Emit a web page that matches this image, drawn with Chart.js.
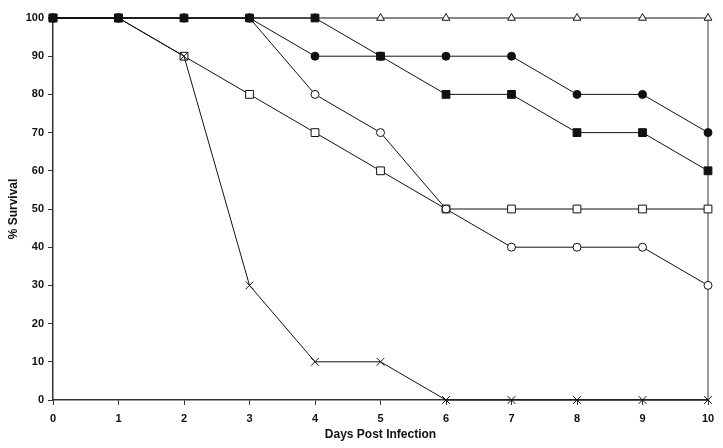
<!DOCTYPE html>
<html>
<head>
<meta charset="utf-8">
<script src="https://cdn.jsdelivr.net/npm/chart.js@4.4.1/dist/chart.umd.min.js"></script>
<style>
  html, body { margin: 0; padding: 0; background: #fff; }
  #wrap { width: 723px; height: 448px; }
</style>
</head>
<body>
<div id="wrap"><canvas id="grafica"></canvas></div>
<script>
// Datos
const dias = [0, 1, 2, 3, 4, 5, 6, 7, 8, 9, 10];
const cuadroLleno   = [100, 100, 100, 100, 100, 90, 80, 80, 70, 70, 60];
const circuloLleno  = [100, 100, 100, 100, 90, 90, 90, 90, 80, 80, 70];
const triangulo     = [100, 100, 100, 100, 100, 100, 100, 100, 100, 100, 100];
const circuloVacio  = [100, 100, 100, 100, 80, 70, 50, 40, 40, 40, 30];
const cuadroVacio   = [100, 100, 90, 80, 70, 60, 50, 50, 50, 50, 50];
const cruz          = [100, 100, 90, 30, 10, 10, 0, 0, 0, 0, 0];
const ticksY = [0, 10, 20, 30, 40, 50, 60, 70, 80, 90, 100];

const FUENTE = "'Liberation Sans', Arial, sans-serif";

function serie(datos, estilo, relleno, radio) {
    return {
        data: datos.map((v, i) => ({ x: dias[i], y: v })),
        borderColor: '#111',
        borderWidth: 1,
        pointStyle: estilo,
        pointRadius: radio,
        pointBorderColor: '#111',
        pointBorderWidth: 1,
        pointBackgroundColor: relleno,
        tension: 0,
        clip: false
    };
}

// Borde derecho del área de trazado
const bordeDerecho = {
    id: 'bordeDerecho',
    beforeDatasetsDraw(chart) {
        const a = chart.chartArea, c = chart.ctx;
        c.save();
        c.strokeStyle = '#777';
        c.lineWidth = 1.5;
        c.beginPath();
        c.moveTo(a.right, a.top);
        c.lineTo(a.right, a.bottom);
        c.stroke();
        c.restore();
    }
};

new Chart(document.getElementById('grafica'), {
    type: 'line',
    data: {
        datasets: [
            serie(cuadroLleno, 'rect', '#111', 5.5),
            serie(circuloLleno, 'circle', '#111', 4),
            serie(triangulo, 'triangle', '#fff', 4.5),
            serie(circuloVacio, 'circle', '#fff', 4),
            serie(cruz, 'crossRot', '#fff', 5.5),
            serie(cuadroVacio, 'rect', '#fff', 5.5)
        ]
    },
    options: {
        responsive: true,
        maintainAspectRatio: false,
        animation: false,
        layout: { padding: { left: 0, right: 15, top: 18, bottom: 0 } },
        plugins: { legend: { display: false }, tooltip: { enabled: false } },
        scales: {
            x: {
                type: 'linear',
                min: 0, max: 10,
                afterBuildTicks: s => { s.ticks = dias.map(v => ({ value: v })); },
                afterFit: s => { s.height = 48; },
                grid: { display: true, drawOnChartArea: false, drawTicks: true, tickLength: 5, color: '#333' },
                border: { display: true, color: '#333', width: 1.5 },
                ticks: { color: '#111', padding: 7, font: { family: FUENTE, size: 11, weight: 'bold' }, maxRotation: 0 },
                title: { display: true, text: 'Days Post Infection', color: '#111', padding: { top: 0, bottom: 6 }, font: { family: FUENTE, size: 12, weight: 'bold' } }
            },
            y: {
                min: 0, max: 100,
                afterBuildTicks: s => { s.ticks = ticksY.map(v => ({ value: v })); },
                afterFit: s => { s.width = 53; },
                grid: { display: true, drawOnChartArea: false, drawTicks: true, tickLength: 5, color: '#333' },
                border: { display: true, color: '#333', width: 1.5 },
                ticks: { color: '#111', padding: 4, font: { family: FUENTE, size: 11, weight: 'bold' } },
                title: { display: true, text: '% Survival', color: '#111', padding: { top: 6, bottom: 0 }, font: { family: FUENTE, size: 12, weight: 'bold' } }
            }
        }
    },
    plugins: [bordeDerecho]
});
</script>
</body>
</html>
